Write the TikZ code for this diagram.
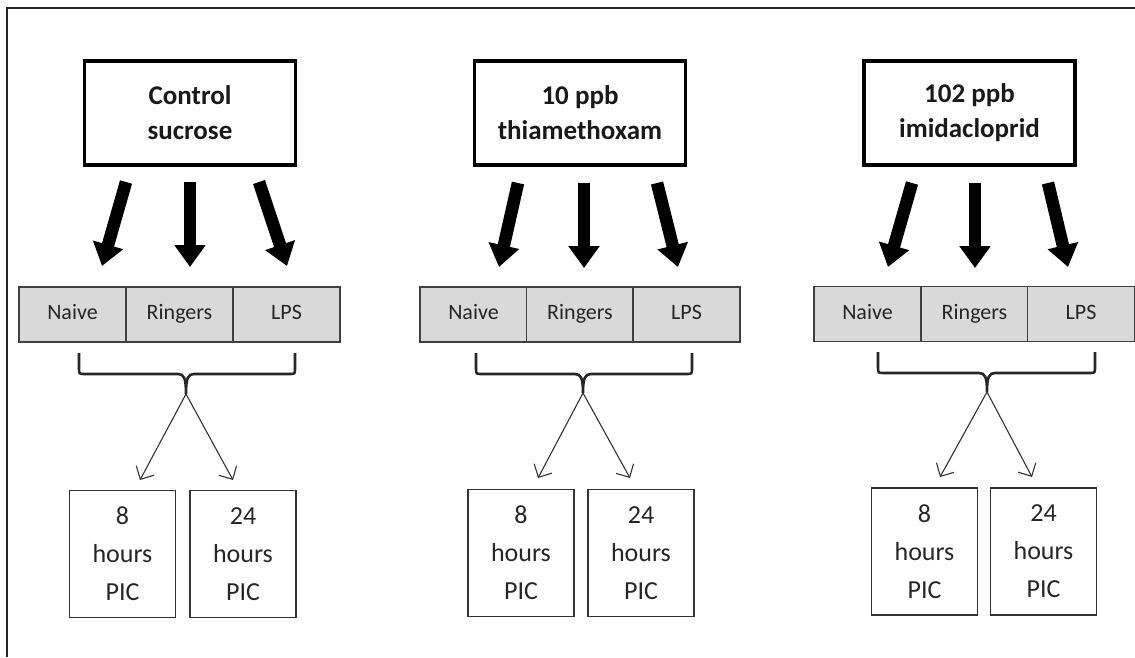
\documentclass[tikz,border=0pt]{standalone}
\usepackage{fontspec}
\setmainfont{Carlito}
\usetikzlibrary{arrows.meta}
\begin{document}
\begin{tikzpicture}[x=1pt,y=-1pt,
  topbox/.style={draw=black, line width=3.5pt, minimum width=211pt, minimum height=104pt,
    font=\fontsize{27}{35}\selectfont\bfseries, align=center, inner sep=0pt, text=black!90},
  cell/.style={draw=black!75, fill=black!15, line width=1.2pt, minimum width=107pt, minimum height=55pt,
    font=\fontsize{22}{26}\selectfont, text=black!85, inner sep=0pt, text height=15pt, text depth=5pt},
  timebox/.style={draw=black!80, line width=1.2pt, minimum width=106pt, minimum height=127pt,
    font=\fontsize{26}{38}\selectfont, text=black!85, align=center, inner sep=0pt},
  fat/.style={draw=black, line width=12.5pt, -{Triangle[width=30pt,length=22pt]}},
  bracel/.style={draw=black!85, line width=2.6pt},
  thinarrow/.style={draw=black!80, line width=1.1pt, -{Straight Barb[length=10pt,width=20pt]}},
  frame/.style={draw=black!85, line width=2pt}
]
\useasboundingbox (0,0) rectangle (1135,657);
\draw[frame] (7,657) -- (7,8) -- (1135,8);

% ---------- Group 1 ----------
\node[topbox] (top1) at (190,113) {Control\\sucrose};
\node[cell] (n1) at (72.5,314.5) {Naive};
\node[cell] (r1) at (179.5,314.5) {Ringers};
\node[cell] (l1) at (286.5,314.5) {LPS};
\node[timebox] (h8a) at (122.5,554) {8\\hours\\PIC};
\node[timebox] (h24a) at (243,554) {24\\hours\\PIC};
\coordinate (a1s) at (126,182); \coordinate (a1e) at (102,266);
\coordinate (b1s) at (190,182); \coordinate (b1e) at (190,267);
\coordinate (c1s) at (259,182); \coordinate (c1e) at (287,266);
\draw[fat] (a1s) -- (a1e);
\draw[fat] (b1s) -- (b1e);
\draw[fat] (c1s) -- (c1e);
\coordinate (tip1) at (186,394);
\draw[bracel] (79,353) -- (79,368) .. controls (79,374) .. (85,374) -- (178,374)
  .. controls (184,374) and (186,378) .. (tip1)
  .. controls (186,378) and (188,374) .. (194,374) -- (289,374)
  .. controls (295,374) .. (295,368) -- (295,353);
\coordinate (e1a) at (140,480); \coordinate (e1b) at (233,480);
\draw[thinarrow] (tip1) -- (e1a);
\draw[thinarrow] (tip1) -- (e1b);

% ---------- Group 2 ----------
\node[topbox] (top2) at (580,113) {10 ppb\\thiamethoxam};
\node[cell] (n2) at (473.5,314.5) {Naive};
\node[cell] (r2) at (580,314.5) {Ringers};
\node[cell] (l2) at (686.5,314.5) {LPS};
\node[timebox] (h8b) at (521,553) {8\\hours\\PIC};
\node[timebox] (h24b) at (641,553) {24\\hours\\PIC};
\coordinate (a2s) at (518,183); \coordinate (a2e) at (499,267);
\coordinate (b2s) at (584,183); \coordinate (b2e) at (584,268);
\coordinate (c2s) at (657,183); \coordinate (c2e) at (678,267);
\draw[fat] (a2s) -- (a2e);
\draw[fat] (b2s) -- (b2e);
\draw[fat] (c2s) -- (c2e);
\coordinate (tip2) at (583,393);
\draw[bracel] (476,353) -- (476,368) .. controls (476,374) .. (482,374) -- (575,374)
  .. controls (581,374) and (583,378) .. (tip2)
  .. controls (583,378) and (585,374) .. (591,374) -- (686,374)
  .. controls (692,374) .. (692,368) -- (692,353);
\coordinate (e2a) at (538,478); \coordinate (e2b) at (630,478);
\draw[thinarrow] (tip2) -- (e2a);
\draw[thinarrow] (tip2) -- (e2b);

% ---------- Group 3 ----------
\node[topbox] (top3) at (969.5,113) {102 ppb\\imidacloprid};
\node[cell] (n3) at (867.5,314) {Naive};
\node[cell] (r3) at (974.5,314) {Ringers};
\node[cell] (l3) at (1081,314) {LPS};
\node[timebox] (h8c) at (924.5,551.5) {8\\hours\\PIC};
\node[timebox] (h24c) at (1043.5,551.5) {24\\hours\\PIC};
\coordinate (a3s) at (912,183); \coordinate (a3e) at (888,267);
\coordinate (b3s) at (975,183); \coordinate (b3e) at (975,268);
\coordinate (c3s) at (1048,183); \coordinate (c3e) at (1068,267);
\draw[fat] (a3s) -- (a3e);
\draw[fat] (b3s) -- (b3e);
\draw[fat] (c3s) -- (c3e);
\coordinate (tip3) at (987,392);
\draw[bracel] (878,352) -- (878,367) .. controls (878,373) .. (884,373) -- (979,373)
  .. controls (985,373) and (987,377) .. (tip3)
  .. controls (987,377) and (989,373) .. (995,373) -- (1089,373)
  .. controls (1095,373) .. (1095,367) -- (1095,352);
\coordinate (e3a) at (940,477); \coordinate (e3b) at (1032,477);
\draw[thinarrow] (tip3) -- (e3a);
\draw[thinarrow] (tip3) -- (e3b);
\end{tikzpicture}
\end{document}
